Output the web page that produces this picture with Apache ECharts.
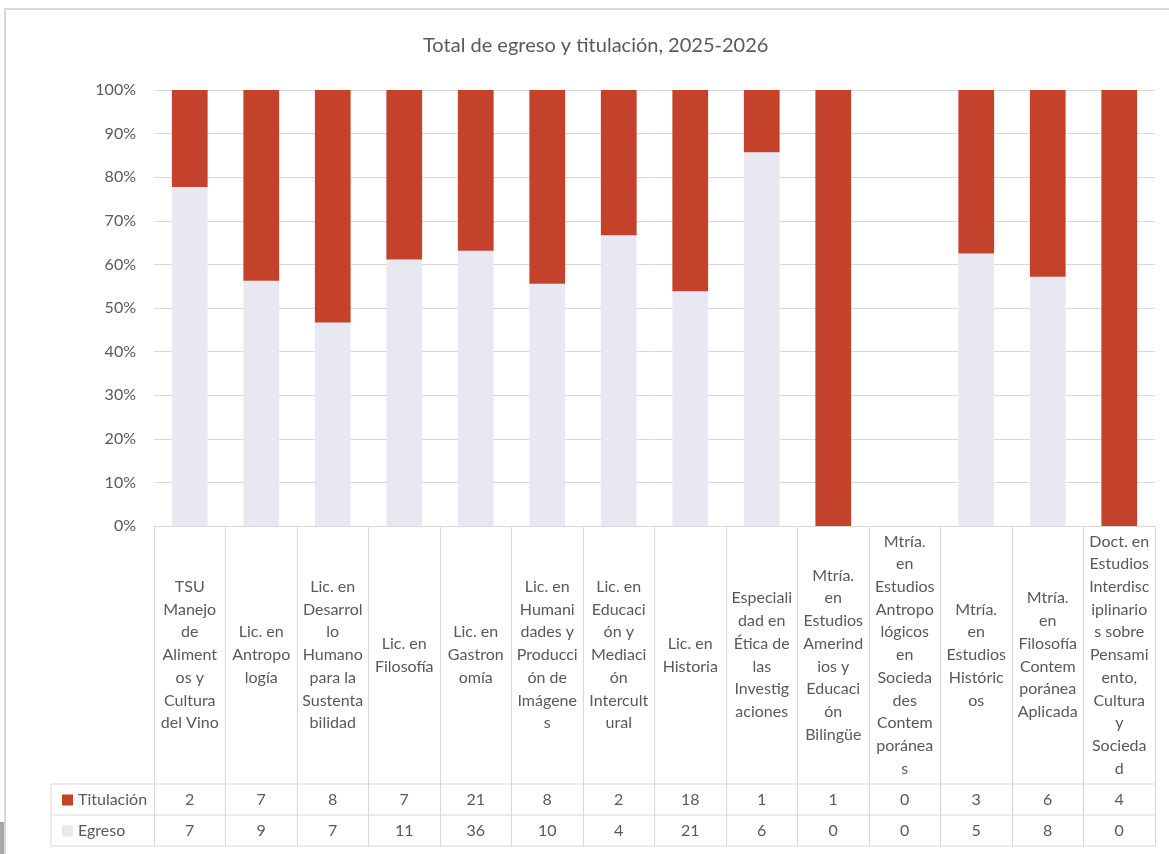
<!DOCTYPE html>
<html>
<head>
<meta charset="utf-8">
<script src="https://cdn.jsdelivr.net/npm/echarts@6/dist/echarts.min.js"></script>
<style>
  html, body { margin: 0; padding: 0; background: #ffffff; }
  #chart { width: 1169px; height: 854px; }
</style>
</head>
<body>
<div id="chart"></div>
<script>
const categories = [
  "TSU\nManejo\nde\nAliment\nos y\nCultura\ndel Vino",
  "Lic. en\nAntropo\nlogía",
  "Lic. en\nDesarrol\nlo\nHumano\npara la\nSustenta\nbilidad",
  "Lic. en\nFilosofía",
  "Lic. en\nGastron\nomía",
  "Lic. en\nHumani\ndades y\nProducci\nón de\nImágene\ns",
  "Lic. en\nEducaci\nón y\nMediaci\nón\nIntercult\nural",
  "Lic. en\nHistoria",
  "Especiali\ndad en\nÉtica de\nlas\nInvestig\naciones",
  "Mtría.\nen\nEstudios\nAmerind\nios y\nEducaci\nón\nBilingüe",
  "Mtría.\nen\nEstudios\nAntropo\nlógicos\nen\nSocieda\ndes\nContem\nporánea\ns",
  "Mtría.\nen\nEstudios\nHistóric\nos",
  "Mtría.\nen\nFilosofía\nContem\nporánea\nAplicada",
  "Doct. en\nEstudios\nInterdisc\niplinario\ns sobre\nPensami\nento,\nCultura\ny\nSocieda\nd"
];
const titulacion = [2, 7, 8, 7, 21, 8, 2, 18, 1, 1, 0, 3, 6, 4];
const egreso     = [7, 9, 7, 11, 36, 10, 4, 21, 6, 0, 0, 5, 8, 0];
const yTicks = { min: 0, max: 100, interval: 10 };

const COLOR_TIT = '#C4422B';
const COLOR_EGR = '#E8E8F3';
const TXT = '#595959';
const LINE = '#D9D9D9';
const FONT = 'Lato';
const FS = 16;

// 100% stacked shares
const egresoPct = egreso.map((e, i) => {
  const tot = e + titulacion[i];
  return tot === 0 ? 0 : e / tot * 100;
});
const titulacionPct = titulacion.map((t, i) => {
  const tot = t + egreso[i];
  return tot === 0 ? 0 : t / tot * 100;
});

// layout
const W = 1169, H = 854;
const GRID_LEFT = 154, GRID_RIGHT = 14, GRID_TOP = 90, GRID_BOTTOM = 328;
const AXIS_Y = H - GRID_BOTTOM;          // 526
const CAT_ROW_H = 258;                    // 526 -> 784
const ROW_H = 31;
const ROW1_TOP = AXIS_Y + CAT_ROW_H;      // 784
const ROW2_TOP = ROW1_TOP + ROW_H;        // 815
const TABLE_BOTTOM = ROW2_TOP + ROW_H;    // 846
const HEADER_LEFT = 51;
const PLOT_RIGHT = W - GRID_RIGHT;

const chart = echarts.init(document.getElementById('chart'), null, { renderer: 'canvas' });

const tableLines = [];
[ROW1_TOP, ROW2_TOP, TABLE_BOTTOM].forEach(y => {
  tableLines.push({ type: 'line', shape: { x1: HEADER_LEFT, y1: y, x2: PLOT_RIGHT, y2: y },
    style: { stroke: LINE, lineWidth: 1 }, silent: true });
});
tableLines.push({ type: 'line', shape: { x1: HEADER_LEFT, y1: ROW1_TOP, x2: HEADER_LEFT, y2: TABLE_BOTTOM },
  style: { stroke: LINE, lineWidth: 1 }, silent: true });

const option = {
  backgroundColor: '#ffffff',
  animation: false,
  textStyle: { fontFamily: FONT },
  title: {
    text: 'Total de egreso y titulación, 2025-2026',
    left: 418,
    top: 31,
    textStyle: { color: TXT, fontSize: 20, fontWeight: 'normal', fontFamily: FONT }
  },
  legend: {
    data: ['Titulación', 'Egreso'],
    orient: 'vertical',
    left: 57,
    top: ROW1_TOP + 1,
    itemWidth: 11,
    itemHeight: 11,
    itemGap: 11,
    icon: 'rect',
    textStyle: { color: TXT, fontSize: FS, fontFamily: FONT, lineHeight: 20, height: 20 }
  },
  grid: { left: GRID_LEFT, right: GRID_RIGHT, top: GRID_TOP, bottom: GRID_BOTTOM, containLabel: false },
  xAxis: [
    {
      type: 'category',
      data: categories,
      position: 'bottom',
      axisLine: { show: true, lineStyle: { color: LINE, width: 1 } },
      axisTick: { show: true, length: TABLE_BOTTOM - AXIS_Y, lineStyle: { color: LINE, width: 1 } },
      axisLabel: {
        interval: 0, margin: CAT_ROW_H / 2, verticalAlign: 'middle',
        color: TXT, fontSize: FS, lineHeight: 22.7, fontFamily: FONT, align: 'center'
      }
    },
    {
      type: 'category',
      data: categories,
      position: 'bottom',
      axisLine: { show: false },
      axisTick: { show: false },
      axisLabel: {
        interval: 0, margin: ROW1_TOP - AXIS_Y + ROW_H / 2, verticalAlign: 'middle',
        color: TXT, fontSize: FS, fontFamily: FONT,
        formatter: (v, i) => String(titulacion[i])
      }
    },
    {
      type: 'category',
      data: categories,
      position: 'bottom',
      axisLine: { show: false },
      axisTick: { show: false },
      axisLabel: {
        interval: 0, margin: ROW2_TOP - AXIS_Y + ROW_H / 2, verticalAlign: 'middle',
        color: TXT, fontSize: FS, fontFamily: FONT,
        formatter: (v, i) => String(egreso[i])
      }
    }
  ],
  yAxis: {
    type: 'value',
    min: yTicks.min, max: yTicks.max, interval: yTicks.interval,
    axisLine: { show: false },
    axisTick: { show: false },
    splitLine: { show: true, lineStyle: { color: LINE, width: 1 } },
    axisLabel: { formatter: '{value}%', color: TXT, fontSize: FS, fontFamily: FONT, margin: 18 }
  },
  series: [
    {
      name: 'Egreso', type: 'bar', stack: 'total', data: egresoPct,
      barWidth: '50%', itemStyle: { color: COLOR_EGR }
    },
    {
      name: 'Titulación', type: 'bar', stack: 'total', data: titulacionPct,
      barWidth: '50%', itemStyle: { color: COLOR_TIT }
    }
  ],
  graphic: [
    { type: 'rect', shape: { x: 5, y: 9, width: 1200, height: 900 },
      style: { fill: 'none', stroke: LINE, lineWidth: 2 }, silent: true, z: -1 },
    { type: 'rect', shape: { x: 0, y: 822, width: 4, height: 32 },
      style: { fill: '#A6A6A6' }, silent: true }
  ].concat(tableLines)
};

chart.setOption(option);
</script>
</body>
</html>
